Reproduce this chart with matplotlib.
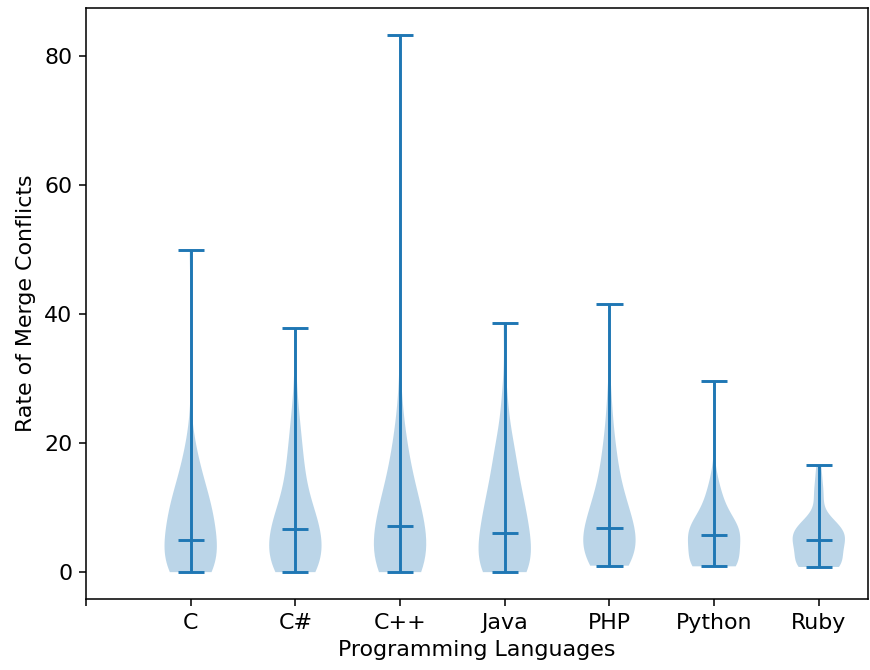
import matplotlib
matplotlib.use('Agg')
import matplotlib.pyplot as plt

# rate of merge conflicts per project, grouped by language
languages = ['C', 'C#', 'C++', 'Java', 'PHP', 'Python', 'Ruby']

rates_c = [0, 0, 0, 0.1, 0.1, 0.1, 0.2, 0.2, 0.3, 0.4, 0.5, 0.7, 1.1, 1.7, 2.3, 3, 3.8,
           4.1, 4.3, 4.4, 4.6, 4.7, 4.8, 4.9, 4.9, 5, 6.5, 7.6, 8.1, 8.4, 8.6, 8.8, 8.9, 9.1,
           9.3, 9.6, 9.9, 10.4, 11, 11.6, 12.2, 12.9, 13.6, 14.2, 14.6, 15.2, 15.9, 17.9, 18.9, 20.6, 50]

rates_csharp = [0, 0, 0.1, 0.2, 0.4, 0.5, 0.6, 0.8, 1, 1.1, 1.3, 1.5, 1.7, 1.9, 2.2, 2.6, 3.2,
                3.9, 4.4, 4.7, 5.1, 5.4, 5.8, 6.2, 6.5, 6.7, 6.8, 7, 7.2, 7.5, 7.8, 8.1, 8.6, 9.1,
                9.7, 10.4, 11, 11.8, 12.5, 13.3, 14.4, 15.4, 16.2, 17, 18, 19.7, 21.3, 22.3, 24.1, 28.2, 37.8]

rates_cpp = [0, 0, 0.1, 0.2, 0.3, 0.4, 0.4, 0.5, 0.6, 0.7, 0.8, 0.9, 1, 1.1, 1.2, 1.3, 1.4,
             1.5, 1.6, 1.7, 1.8, 2, 2.1, 2.3, 2.5, 2.8, 3.1, 3.5, 3.9, 4.4, 4.9, 5.3, 5.9, 6.4,
             6.9, 7.1, 7.2, 7.4, 7.6, 7.8, 8, 8.2, 8.4, 8.7, 8.9, 9.1, 9.3, 9.6, 9.8, 10.1, 10.4,
             10.8, 11.1, 11.6, 12.2, 12.5, 13, 13.7, 14.4, 15.2, 16, 16.7, 17.5, 18.2, 18.8, 19.5, 20.3, 21.4,
             23.8, 27.9, 83.3]

rates_java = [0, 0, 0, 0.1, 0.1, 0.1, 0.2, 0.2, 0.3, 0.4, 0.5, 0.7, 1, 1.4, 1.9, 2.8, 3.8,
              4.7, 5.2, 5.5, 5.6, 5.7, 5.8, 5.9, 5.9, 6, 7, 7.8, 8.3, 8.8, 9.4, 10, 10.7, 11.2,
              11.6, 11.9, 12.2, 12.5, 12.9, 13.8, 15.4, 16.4, 17.3, 18, 18.6, 19.3, 20, 21.2, 25.9, 27, 38.7]

rates_php = [1, 1.1, 1.3, 1.6, 1.8, 2, 2.2, 2.4, 2.5, 2.5, 2.6, 2.7, 2.8, 2.9, 3, 3.3, 4.2,
             4.9, 5.2, 5.5, 5.7, 5.9, 6.2, 6.4, 6.7, 6.8, 7.1, 7.5, 7.9, 8.4, 8.8, 9.2, 9.6, 10,
             10.5, 10.9, 11.5, 12, 12.5, 13, 13.7, 15.1, 15.9, 16.9, 18, 18.8, 20.3, 21.6, 24.8, 27.7, 41.5]

rates_python = [0.9, 0.9, 0.9, 0.9, 0.9, 0.9, 0.9, 1, 1, 1, 1.1, 1.1, 1.1, 1.2, 1.3, 2.3, 2.8,
                3.1, 3.5, 3.9, 4.3, 4.5, 4.8, 5, 5.2, 5.8, 5.8, 5.9, 5.9, 6, 6.1, 6.3, 6.5, 6.7,
                6.8, 7, 7.2, 7.5, 7.7, 7.9, 8.2, 8.5, 9.2, 10.2, 10.9, 11.3, 11.7, 12.2, 13.4, 15.3, 29.7]

rates_ruby = [0.8, 0.8, 0.8, 0.8, 0.8, 0.9, 0.9, 0.9, 0.9, 1, 1, 1.1, 1.3, 1.9, 2.4, 2.7, 2.9,
              3.2, 3.4, 3.6, 3.9, 4.1, 4.4, 4.6, 4.8, 5, 5.1, 5.1, 5.2, 5.3, 5.5, 5.7, 5.9, 6.1,
              6.4, 6.6, 6.7, 6.9, 7.1, 7.2, 7.3, 7.4, 7.6, 7.7, 8.4, 11.3, 11.7, 12.2, 13.5, 15.3, 16.6]


def plot_rates(all_rates):
    plt.rcParams['font.size'] = 11.4

    fig = plt.figure(figsize=(870 / 140, 670 / 140), dpi=140)
    ax = fig.add_axes([86 / 870, 71 / 670, 782 / 870, 591 / 670])

    ax.violinplot(all_rates, positions=range(1, len(all_rates) + 1), showmedians=True)

    ax.set_xticks(range(len(all_rates) + 1))
    ax.set_xticklabels([''] + languages)
    ax.set_xlim(0, 7.47)

    ax.set_xlabel('Programming Languages')
    ax.set_ylabel('Rate of Merge Conflicts')

    fig.savefig('out.png', dpi=140)


if __name__ == '__main__':
    plot_rates([rates_c, rates_csharp, rates_cpp, rates_java, rates_php, rates_python, rates_ruby])
